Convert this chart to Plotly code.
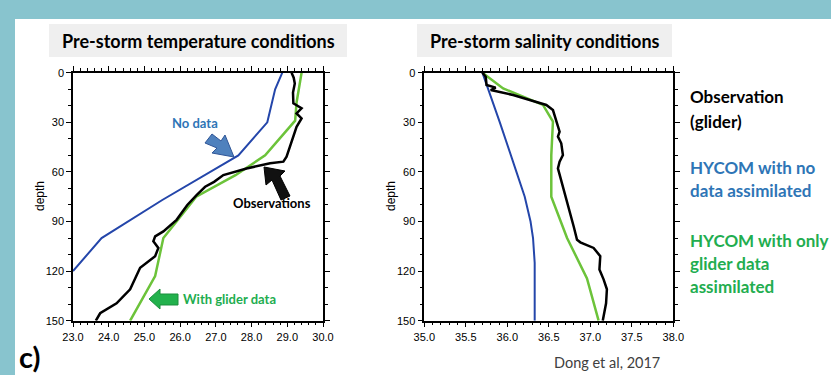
import plotly.graph_objects as go

W, H = 831, 375

# ---------------- data ----------------
# Temperature panel (depth in m, temperature in deg C)
temp_nodata_depth = [0, 10, 30, 50, 77, 100, 120]
temp_nodata_val = [28.86, 28.66, 28.44, 27.63, 25.50, 23.80, 23.0]

temp_glider_depth = [0, 18, 29, 50, 62, 75, 90, 100, 123, 150]
temp_glider_val = [29.40, 29.26, 29.22, 28.38, 27.55, 26.45, 25.90, 25.53, 25.30, 24.60]

temp_obs_depth = [0, 3, 6.5, 12, 18.5, 21.5, 24.6, 27.6, 32.7, 41.7, 50.8, 53.8, 54.8, 57.9,
                  61.9, 66, 69, 74, 80, 89, 96, 99, 102, 106, 111, 118, 125, 131, 139.5, 145.5, 150]
temp_obs_val = [29.12, 29.18, 29.21, 29.16, 29.17, 29.40, 29.26, 29.40, 29.26, 29.12, 28.98, 28.89,
                28.52, 27.86, 27.21, 26.95, 26.70, 26.46, 26.20, 25.90, 25.53, 25.30, 25.25, 25.39,
                25.30, 24.88, 24.74, 24.60, 24.22, 23.76, 23.64]

# Salinity panel (depth in m, salinity in psu)
sal_nodata_depth = [0, 30, 60, 75, 90, 100, 115, 150]
sal_nodata_val = [35.70, 35.91, 36.11, 36.21, 36.28, 36.31, 36.33, 36.33]

sal_glider_depth = [0, 9.5, 19.5, 29.6, 50, 75, 100, 124.4, 150]
sal_glider_val = [35.70, 35.95, 36.43, 36.55, 36.53, 36.53, 36.72, 36.96, 37.10]

sal_obs_depth = [0, 2.4, 7.4, 9, 10.5, 11.5, 13.5, 16.5, 19.5, 22.6, 29.6, 35.7, 38.7, 42.7, 49.8,
                 53.8, 57.9, 65, 75, 85, 93, 101, 102.6, 106, 111, 119, 125, 131, 139.5, 150]
sal_obs_val = [35.70, 35.74, 35.75, 35.86, 35.80, 35.90, 36.07, 36.27, 36.47, 36.55, 36.59, 36.63,
               36.61, 36.65, 36.67, 36.63, 36.61, 36.65, 36.70, 36.76, 36.80, 36.84, 36.88, 37.04,
               37.12, 37.11, 37.16, 37.20, 37.19, 37.15]

temp_ticks = [23.0, 24.0, 25.0, 26.0, 27.0, 28.0, 29.0, 30.0]
sal_ticks = [35.0, 35.5, 36.0, 36.5, 37.0, 37.5, 38.0]
depth_ticks = [0, 30, 60, 90, 120, 150]

OBS_C = "#000000"
NODATA_C = "#2446AA"
GLIDER_C = "#6CC33A"
TEAL = "#88C4CE"
BLUE_TXT = "#2E75B6"
GREEN_TXT = "#22AD4F"


def px(x):
    return x / W


def py(y):
    return 1 - y / H


fig = go.Figure()

for xa, ya, xs, ys, c, w in [
    ("x", "y", temp_nodata_val, temp_nodata_depth, NODATA_C, 2),
    ("x", "y", temp_glider_val, temp_glider_depth, GLIDER_C, 2.5),
    ("x", "y", temp_obs_val, temp_obs_depth, OBS_C, 2.5),
    ("x2", "y2", sal_nodata_val, sal_nodata_depth, NODATA_C, 2),
    ("x2", "y2", sal_glider_val, sal_glider_depth, GLIDER_C, 2.5),
    ("x2", "y2", sal_obs_val, sal_obs_depth, OBS_C, 2.5),
]:
    fig.add_trace(go.Scatter(x=xs, y=ys, xaxis=xa, yaxis=ya, mode="lines",
                             line=dict(color=c, width=w), showlegend=False,
                             hoverinfo="skip"))

tickfont = dict(family="Liberation Sans, Arial", size=11, color="black")
common_x = dict(showline=True, linecolor="black", linewidth=1.5, mirror="allticks",
                ticks="outside", ticklen=5, tickwidth=1, tickcolor="black", automargin=False,
                showgrid=False, zeroline=False, tickfont=tickfont, tickformat=".1f")
common_y = dict(showline=True, linecolor="black", linewidth=1.5, mirror="allticks",
                ticks="outside", ticklen=5, tickwidth=1, tickcolor="black", automargin=False,
                showgrid=False, zeroline=False, tickfont=tickfont,
                range=[150, 0], tickvals=depth_ticks,
                minor=dict(dtick=10, ticklen=3, tickcolor="black", ticks="outside"))

yd = [py(320.7), py(72.7)]
fig.update_layout(
    width=W, height=H, margin=dict(l=0, r=0, t=0, b=0, autoexpand=False),
    paper_bgcolor="white", plot_bgcolor="white",
    xaxis=dict(common_x, domain=[px(73), px(323)], range=[23, 30], tickvals=temp_ticks,
               minor=dict(dtick=0.2, ticklen=3, tickcolor="black", ticks="outside"), anchor="y"),
    yaxis=dict(common_y, domain=yd, anchor="x"),
    xaxis2=dict(common_x, domain=[px(424.3), px(673.3)], range=[35, 38], tickvals=sal_ticks,
                minor=dict(dtick=0.1, ticklen=3, tickcolor="black", ticks="outside"), anchor="y2"),
    yaxis2=dict(common_y, domain=yd, anchor="x2"),
)

shapes = []
# teal frame
shapes.append(dict(type="rect", xref="paper", yref="paper", x0=0, x1=1, y0=py(19), y1=1,
                   fillcolor=TEAL, line=dict(width=0), layer="below"))
shapes.append(dict(type="rect", xref="paper", yref="paper", x0=0, x1=px(15), y0=0, y1=1,
                   fillcolor=TEAL, line=dict(width=0), layer="below"))
# title boxes
for x0, x1 in [(49, 347), (417, 672)]:
    shapes.append(dict(type="rect", xref="paper", yref="paper", x0=px(x0), x1=px(x1),
                       y0=py(57), y1=py(24), fillcolor="#EFEFEF", line=dict(width=0), layer="below"))


def poly(points, fill, outline):
    d = "M " + " L ".join(f"{px(x):.5f},{py(y):.5f}" for x, y in points) + " Z"
    return dict(type="path", xref="paper", yref="paper", path=d, fillcolor=fill,
                line=dict(color=outline, width=1))


# block arrows
shapes.append(poly([(205, 143), (212, 134), (221, 141), (225, 135), (234, 157),
                    (212, 153), (217, 148)], "#4F81BD", "#2F5597"))
shapes.append(poly([(264, 167), (285, 171), (280, 176), (290, 196), (281, 200),
                    (272, 180), (266, 185)], "#111111", "#000000"))
shapes.append(poly([(149, 299), (160, 289), (160, 294), (178, 294), (178, 305),
                    (160, 305), (160, 309)], "#22B14C", "#1A8F3C"))
fig.update_layout(shapes=shapes)

ann = []
TF = "Lato, Open Sans"


def text(x, y, s, size, color, bold=True, xanchor="center", family=TF, angle=0):
    ann.append(dict(x=px(x), y=py(y), xref="paper", yref="paper", text=(f"<b>{s}</b>" if bold else s),
                    showarrow=False, xanchor=xanchor, yanchor="middle", textangle=angle,
                    font=dict(family=family, size=size, color=color)))


text(198, 41, "Pre-storm temperature conditions", 18, "black")
text(545, 41, "Pre-storm salinity conditions", 18, "black")
text(195, 123, "No data", 13, BLUE_TXT)
text(272, 203, "Observations", 13, "black")
text(230, 299, "With glider data", 13, GREEN_TXT)
text(40, 196, "depth", 12, "black", bold=False, family="Liberation Sans, Arial", angle=-90)
text(391, 196, "depth", 12, "black", bold=False, family="Liberation Sans, Arial", angle=-90)
LF = 17
text(688, 97, "Observation", LF, "black", xanchor="left")
text(688, 121, "(glider)", LF, "black", xanchor="left")
text(688, 167, "HYCOM with no", LF, BLUE_TXT, xanchor="left")
text(688, 190, "data assimilated", LF, BLUE_TXT, xanchor="left")
text(688, 240, "HYCOM with only", LF, GREEN_TXT, xanchor="left")
text(688, 263, "glider data", LF, GREEN_TXT, xanchor="left")
text(688, 286, "assimilated", LF, GREEN_TXT, xanchor="left")
text(17, 356, "c)", 29, "black", xanchor="left")
text(607, 362, "Dong et al, 2017", 14.5, "#404040", bold=False)
fig.update_layout(annotations=ann)

fig.write_html("out.html")
